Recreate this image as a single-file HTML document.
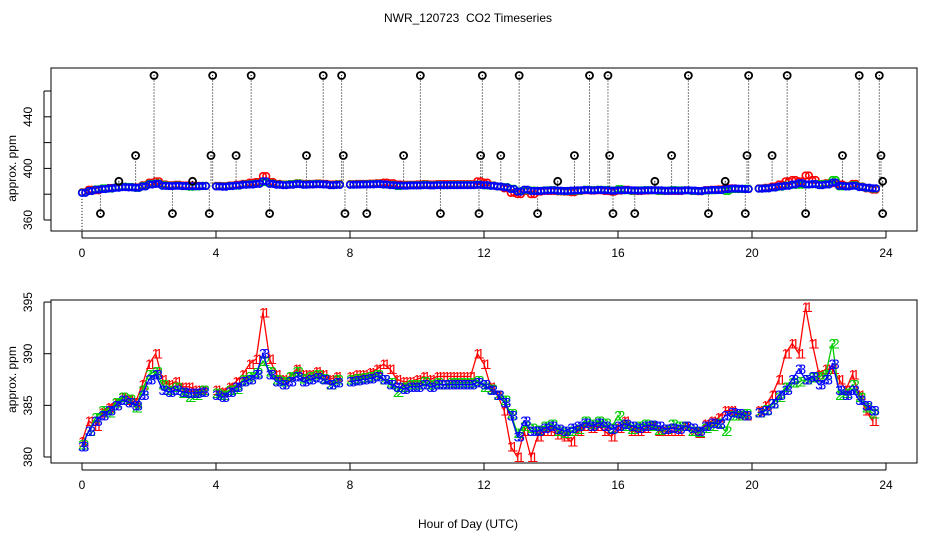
<!DOCTYPE html>
<html><head><meta charset="utf-8"><style>
body{margin:0;background:#fff;}
svg{display:block;font-family:"Liberation Sans",Arial,sans-serif;}
</style></head><body>
<svg id="chart" width="936" height="540" viewBox="0 0 936 540" xmlns="http://www.w3.org/2000/svg">
<rect width="936" height="540" fill="#fff"/>
<text x="468" y="22" font-size="12" text-anchor="middle">NWR_120723 &#160;CO2 Timeseries</text>
<text x="468" y="528" font-size="12" text-anchor="middle">Hour of Day (UTC)</text>
<g id="gtop"></g>
<g id="gbot"></g>
</svg>
<script>
const hours=[0,0.2,0.4,0.6,0.8,1,1.2,1.4,1.6,1.8,2,2.2,2.4,2.6,2.8,3,3.2,3.4,3.6,3.8,4,4.2,4.4,4.6,4.8,5,5.2,5.4,5.6,5.8,6,6.2,6.4,6.6,6.8,7,7.2,7.4,7.6,7.8,8,8.2,8.4,8.6,8.8,9,9.2,9.4,9.6,9.8,10,10.2,10.4,10.6,10.8,11,11.2,11.4,11.6,11.8,12,12.2,12.4,12.6,12.8,13,13.2,13.4,13.6,13.8,14,14.2,14.4,14.6,14.8,15,15.2,15.4,15.6,15.8,16,16.2,16.4,16.6,16.8,17,17.2,17.4,17.6,17.8,18,18.2,18.4,18.6,18.8,19,19.2,19.4,19.6,19.8,20,20.2,20.4,20.6,20.8,21,21.2,21.4,21.6,21.8,22,22.2,22.4,22.6,22.8,23,23.2,23.4,23.6];
const series3=[381,382.5,383.5,384,384.5,385,385.5,385.3,385,386,387.5,388,386.5,386.3,386.5,386.3,386.2,386.2,386.3,null,386,385.8,386.3,386.8,387.3,387.5,388,390,388,387.3,387,387.3,387.8,387.3,387.5,387.7,387.5,387,387.2,null,387.3,387.4,387.5,387.6,387.8,387.5,387,386.8,386.6,386.8,386.8,387,386.8,387,387,387,387,387,387,387.2,387,386.5,386,385.3,384,382,383.5,382.5,382.5,382.8,383,382.7,382.5,382.8,383,383.3,383,383.3,383,382.7,383,383.2,383,382.8,383,383.1,383,382.7,382.8,382.7,383,382.8,382.5,383,383.3,383.2,384,384.3,384.2,384,null,384.3,384.5,385.2,386,386.5,387.5,388.5,387.5,387.8,387,387.5,389,386.5,386,386.5,385.5,385,384.5];
const series1=[381.5,383.5,383,384.3,384.8,385.3,385.8,385.5,385.3,387,389,390,387.5,387,387.3,386.8,386.8,386.5,386.5,null,386.5,386.3,386.8,387.3,388,389,389.5,394,389.5,388,387.5,387.8,388.5,388,388,388.3,388,387.5,387.8,null,387.8,388,388,388.2,388.5,389,388.5,387.5,387.3,387.3,387.5,387.8,387.5,387.8,387.8,387.8,387.8,387.8,387.8,390,389,386.8,386,384.5,381,380,382.5,380,382,382.5,382.5,382.2,382,381.5,382.5,383,382.8,383,382.5,382,382.8,383.5,382.5,382.5,382.8,383,382.5,382.5,382.5,382.5,383,382.5,382.3,383.2,383.5,383.8,384.5,384.5,384,384,null,384.5,385,386,387.5,390,391,390,394.5,391,388,388.5,388.5,387.5,386.5,388,386,384.5,383.5];
const series2=[381.2,382.5,383.8,384.5,384.3,385.3,385.8,385.6,384.8,386.5,388,388.3,387,386.5,386.8,386.2,385.8,386,386.5,null,386.2,386,386.5,386.6,387.5,387.8,388.2,389.3,388.3,387.5,387.3,387.8,388.3,387.6,387.8,388,387.6,387,387.5,null,387.5,387.6,387.7,387.8,388,387.5,387.2,386.3,386.8,387,387,387.3,387,387.2,387,387.2,387.2,387.2,387.2,387.4,386.8,386.6,386,385.5,384.2,382.3,383,382.8,382.6,383,383.2,382.5,382.3,382.5,382.7,383.5,383.2,383.5,383.3,382.8,384,383,382.7,383,383.2,383,382.6,382.7,383.2,383,383,382.5,382.4,382.8,383,383.3,382.5,384,384,384.2,null,384.3,384.6,385.2,385.8,386.8,387.2,387.3,387.5,387.7,387.8,388,391,386,386.2,387,385.8,384.8,384.2];
const outHours=[0.55,1.1,1.6,2.15,2.7,3.3,3.8,3.85,3.9,4.6,5.05,5.6,6.7,7.2,7.75,7.8,7.85,8.5,9.6,10.1,10.7,11.85,11.9,11.95,12.5,13.05,13.6,14.2,14.7,15.15,15.7,15.75,15.85,16.5,17.1,17.6,18.1,18.7,19.2,19.8,19.85,19.9,20.6,21.05,21.6,22.7,23.2,23.8,23.85,23.9,23.9];
const outValues=[365,390,410,472,365,390,365,410,472,410,472,365,410,472,472,410,365,365,410,472,365,365,410,472,410,472,365,390,410,472,472,410,365,365,390,410,472,365,390,365,410,472,410,472,365,410,472,472,410,365,390];
const xTicks=[0,4,8,12,16,20,24];
const topTicks=[360,380,400,420,440,460];
const topLabels=[360,400,440];
const botTicks=[380,385,390,395];

const NS="http://www.w3.org/2000/svg";
const xs=h=>82+33.5*h;
const yT=v=>220-(v-360)*1.29;
const yB=v=>457-(v-380)*10.33;
function mk(tag,at,parent){const e=document.createElementNS(NS,tag);for(const k in at)e.setAttribute(k,at[k]);parent.appendChild(e);return e;}
const gTop=document.getElementById('gtop'),gBot=document.getElementById('gbot');

function frame(g,y0,y1,name){
  const b=mk('rect',{x:51,y:y0,width:866,height:y1-y0,fill:'none',stroke:'#000','stroke-width':1},g);
  
  
  xTicks.forEach(t=>{
    const l=mk('line',{x1:xs(t),x2:xs(t),y1:y1,y2:y1+7,stroke:'#000'},g);
    
    
    const tx=mk('text',{x:xs(t),y:y1+26,'font-size':12,'text-anchor':'middle'},g);tx.textContent=t;
    
    
  });
  const al=mk('line',{x1:xs(0),x2:xs(24),y1:y1+7,y2:y1+7,stroke:'#000'},g);
  
  
}
frame(gTop,68,231,'top');
frame(gBot,300,463,'bottom');
mk('line',{x1:44,x2:44,y1:yT(360),y2:yT(460),stroke:'#000'},gTop);
topTicks.forEach(t=>{const l=mk('line',{x1:44,x2:51,y1:yT(t),y2:yT(t),stroke:'#000'},gTop);
  
  });
topLabels.forEach(t=>{const tx=mk('text',{x:0,y:0,'font-size':12,'text-anchor':'middle',transform:`translate(32,${yT(t)}) rotate(-90)`},gTop);tx.textContent=t;
  
  });
mk('line',{x1:44,x2:44,y1:yB(380),y2:yB(395),stroke:'#000'},gBot);
botTicks.forEach(t=>{const l=mk('line',{x1:44,x2:51,y1:yB(t),y2:yB(t),stroke:'#000'},gBot);
  
  
  const tx=mk('text',{x:0,y:0,'font-size':12,'text-anchor':'middle',transform:`translate(32,${yB(t)}) rotate(-90)`},gBot);tx.textContent=t;
  
  });
[[gTop,yT(400)],[gBot,yB(387.5)]].forEach(([g,y])=>{const tx=mk('text',{x:0,y:0,'font-size':12,'text-anchor':'middle',transform:`translate(16,${y}) rotate(-90)`},g);tx.textContent='approx. ppm';
  
  });

outHours.forEach((h,i)=>{
  const l=mk('line',{x1:xs(h),x2:xs(h),y1:yT(386),y2:yT(outValues[i]),stroke:'#000','stroke-width':1,'stroke-dasharray':'1,2'},gTop);
  
  
});
mk('line',{x1:xs(0),x2:xs(0),y1:yT(381),y2:236,stroke:'#000','stroke-dasharray':'1,2'},gTop);

const sets=[[series1,'#ff0000','1'],[series2,'#00cc00','2'],[series3,'#0000ff','3']];
sets.forEach(([arr,col,lab])=>{
  arr.forEach((v,i)=>{if(v==null)return;
    const c=mk('circle',{cx:xs(hours[i]),cy:yT(v),r:3.3,fill:'none',stroke:col,'stroke-width':1.6},gTop);
    
    
    const c2=mk('circle',{cx:xs(hours[i]+0.1),cy:yT(v),r:3.3,fill:'none',stroke:col,'stroke-width':1.6},gTop);
    
    
  });
  let d='';let pen=false;
  arr.forEach((v,i)=>{if(v==null){pen=false;return;}d+=(pen?'L':'M')+xs(hours[i])+','+yB(v);pen=true;});
  const p=mk('path',{d:d,fill:'none',stroke:col,'stroke-width':1.3},gBot);
  
  
  arr.forEach((v,i)=>{if(v==null)return;
    [0,0.1].forEach(o=>{
    const t=mk('text',{x:xs(hours[i]+o),y:yB(v)+5,'font-size':14,'text-anchor':'middle',fill:col},gBot);t.textContent=lab;
    
    });
  });
});
outHours.forEach((h,i)=>{
  const c=mk('circle',{cx:xs(h),cy:yT(outValues[i]),r:3.5,fill:'none',stroke:'#000','stroke-width':1.8},gTop);
  
  
  mk('circle',{cx:xs(h),cy:yT(outValues[i]),r:0.6,fill:'#000'},gTop);
});
</script>
</body></html>
